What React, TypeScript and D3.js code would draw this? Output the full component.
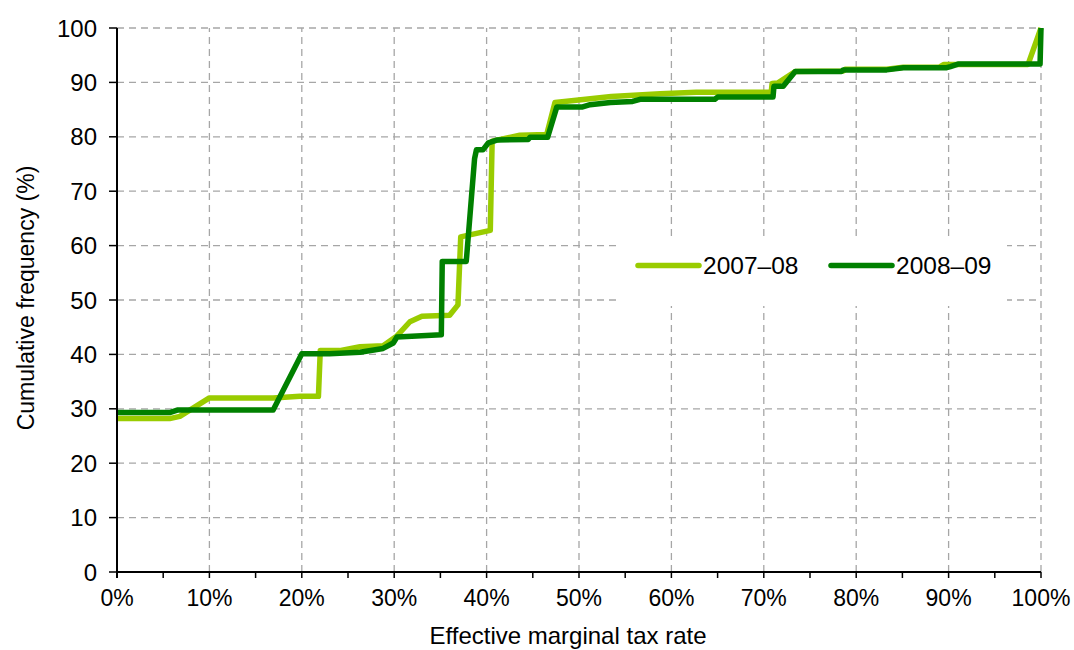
import React from "react";
import * as d3 from "d3";

const rate0708 = [0, 5.7, 6.8, 10, 16.9, 19.8, 21.8, 22.0, 24.1, 26.3, 28.8, 30.3, 31.7, 33.0, 36.0, 36.9, 37.2, 40.4, 40.6, 43.6, 46.5, 47.4, 49.7, 53.5, 58.8, 62.7, 70.8, 70.9, 71.5, 73.4, 78.6, 78.8, 83.3, 85.1, 89.0, 89.5, 98.6, 100];
const freq0708 = [28.2, 28.2, 28.6, 32.0, 32.0, 32.3, 32.3, 40.7, 40.7, 41.4, 41.6, 43.4, 46.0, 47.0, 47.2, 49.1, 61.6, 62.8, 79.2, 80.3, 80.4, 86.3, 86.7, 87.4, 87.9, 88.2, 88.2, 89.8, 89.9, 92.0, 92.1, 92.4, 92.4, 92.8, 92.8, 93.3, 93.3, 100];

const rate0809 = [0, 5.7, 6.6, 16.9, 20.0, 23.0, 26.3, 28.8, 29.9, 30.3, 35.1, 35.2, 37.8, 38.7, 38.9, 39.6, 40.2, 41.1, 44.5, 44.7, 46.6, 47.6, 50.4, 51.2, 53.4, 55.8, 56.6, 64.7, 65.0, 71.0, 71.1, 72.1, 73.4, 78.4, 78.6, 83.3, 85.1, 89.8, 90.2, 91.1, 99.9, 100];
const freq0809 = [29.3, 29.3, 29.8, 29.8, 40.1, 40.1, 40.4, 41.1, 42.1, 43.2, 43.6, 57.1, 57.1, 76.0, 77.6, 77.6, 78.9, 79.4, 79.5, 79.9, 79.9, 85.5, 85.5, 85.9, 86.3, 86.5, 86.9, 86.9, 87.3, 87.3, 89.3, 89.3, 92.0, 92.0, 92.3, 92.3, 92.7, 92.7, 92.9, 93.4, 93.4, 100];

const xTicks = [0, 10, 20, 30, 40, 50, 60, 70, 80, 90, 100];
const xMinorTicks = [0, 5, 10, 15, 20, 25, 30, 35, 40, 45, 50, 55, 60, 65, 70, 75, 80, 85, 90, 95, 100];
const yTicks = [0, 10, 20, 30, 40, 50, 60, 70, 80, 90, 100];

const seriesNames = ["2007\u201308", "2008\u201309"];
const seriesColors = ["#99CC00", "#008000"];

const FONT = "'Liberation Sans', Arial, sans-serif";

export default function App() {
  const x = d3.scaleLinear().domain([0, 100]).range([117, 1041]);
  const y = d3.scaleLinear().domain([0, 100]).range([572, 28]);

  const line = d3
    .line<[number, number]>()
    .x((d) => x(d[0]))
    .y((d) => y(d[1]));

  const s1: [number, number][] = rate0708.map((r, i) => [r, freq0708[i]]);
  const s2: [number, number][] = rate0809.map((r, i) => [r, freq0809[i]]);

  const gridColor = "#a6a6a6";

  return (
    <svg
      width={1074}
      height={650}
      style={{ position: "absolute", left: 0, top: 0, background: "#fff" }}
      fontFamily={FONT}
    >
      <rect x={0} y={0} width={1074} height={650} fill="#fff" />
      {/* gridlines */}
      {xTicks.slice(1).map((t) => (
        <line
          key={"gx" + t}
          x1={x(t)}
          x2={x(t)}
          y1={y(0)}
          y2={y(100)}
          stroke={gridColor}
          strokeWidth={1.3}
          strokeDasharray="7,5"
        />
      ))}
      {yTicks.slice(1).map((t) => (
        <line
          key={"gy" + t}
          x1={x(0)}
          x2={x(100)}
          y1={y(t)}
          y2={y(t)}
          stroke={gridColor}
          strokeWidth={1.3}
          strokeDasharray="7,5"
        />
      ))}

      {/* legend box */}
      <rect x={617} y={236} width={390} height={70} fill="#fff" />

      {/* series */}
      <path d={line(s1) || ""} fill="none" stroke={seriesColors[0]} strokeWidth={5.5} strokeLinejoin="round" />
      <path d={line(s2) || ""} fill="none" stroke={seriesColors[1]} strokeWidth={5.5} strokeLinejoin="round" />

      {/* axes */}
      <line x1={x(0)} x2={x(0)} y1={y(100)} y2={y(0) + 6} stroke="#000" strokeWidth={2} />
      <line x1={x(0)} x2={x(100)} y1={y(0)} y2={y(0)} stroke="#000" strokeWidth={2} />
      {yTicks.map((t) => (
        <line key={"yt" + t} x1={x(0) - 8} x2={x(0)} y1={y(t)} y2={y(t)} stroke="#000" strokeWidth={1.5} />
      ))}
      {xMinorTicks.map((t) => (
        <line key={"xt" + t} x1={x(t)} x2={x(t)} y1={y(0)} y2={y(0) + 6} stroke="#000" strokeWidth={1.5} />
      ))}

      {/* tick labels */}
      {yTicks.map((t) => (
        <text key={"yl" + t} x={97} y={y(t)} dy="0.36em" textAnchor="end" fontSize={24} fill="#000">
          {t}
        </text>
      ))}
      {xTicks.map((t) => (
        <text key={"xl" + t} x={x(t)} y={606} textAnchor="middle" fontSize={23} fill="#000">
          {t + "%"}
        </text>
      ))}

      {/* axis titles */}
      <text x={568} y={644} textAnchor="middle" fontSize={24} fill="#000">
        Effective marginal tax rate
      </text>
      <text
        transform={`translate(34, 298) rotate(-90)`}
        textAnchor="middle"
        fontSize={23}
        fill="#000"
      >
        Cumulative frequency (%)
      </text>

      {/* legend */}
      {seriesNames.map((n, i) => {
        const lx = i === 0 ? 638 : 831;
        return (
          <g key={n}>
            <line x1={lx} x2={lx + 61} y1={265.5} y2={265.5} stroke={seriesColors[i]} strokeWidth={5.5} strokeLinecap="round" />
            <text x={lx + 65} y={274} fontSize={24.5} fill="#000">
              {n}
            </text>
          </g>
        );
      })}
    </svg>
  );
}
